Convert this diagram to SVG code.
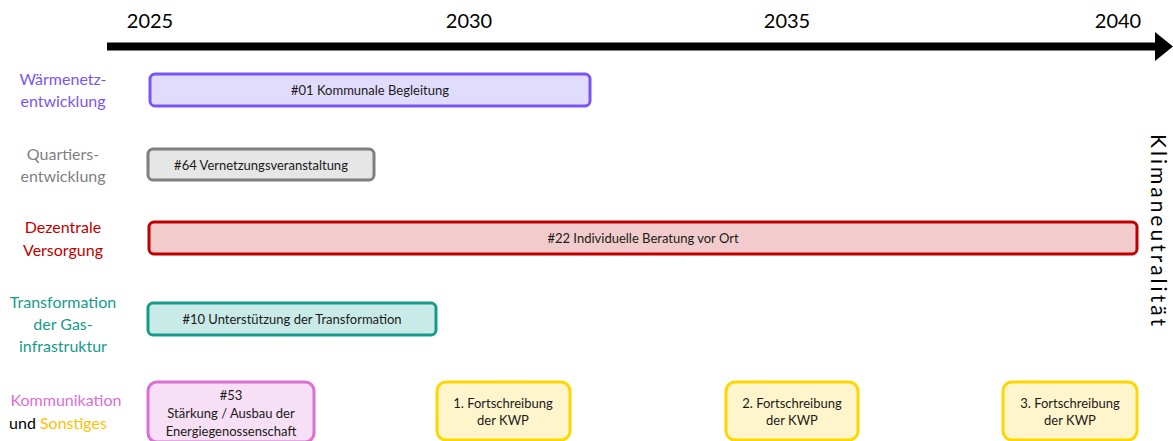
<svg xmlns="http://www.w3.org/2000/svg" width="1173" height="441" viewBox="0 0 1173 441">
<style>
text{font-family:Lato,"Open Sans","Liberation Sans",sans-serif}
.yr{font-size:20px;fill:#000;text-anchor:middle}
.lbl{font-size:16px;text-anchor:middle}
.bx{font-size:13px;fill:#1a1a1a;text-anchor:middle}
.box{stroke-width:3}
</style>
<rect width="1173" height="441" fill="#fff"/>
<g id="axis">
<line x1="107" y1="46.5" x2="1157" y2="46.5" stroke="#000" stroke-width="8"/>
<polygon points="1155,32 1173,46.5 1155,61" fill="#000"/>
<text class="yr" x="150" y="28">2025</text>
<text class="yr" x="469" y="28">2030</text>
<text class="yr" x="787" y="28">2035</text>
<text class="yr" x="1118" y="28">2040</text>
<text x="1151" y="230" font-size="21" text-anchor="middle" transform="rotate(90 1151 230)" textLength="192" lengthAdjust="spacing" fill="#000">Klimaneutralität</text>
</g>
<g id="labels">
<text class="lbl" x="63" y="85" fill="#7b55f2">Wärmenetz-</text>
<text class="lbl" x="63" y="107" fill="#7b55f2">entwicklung</text>
<text class="lbl" x="63" y="160" fill="#7f7f7f">Quartiers-</text>
<text class="lbl" x="63" y="182" fill="#7f7f7f">entwicklung</text>
<text class="lbl" x="63" y="233" fill="#c00000">Dezentrale</text>
<text class="lbl" x="63" y="256" fill="#c00000">Versorgung</text>
<text class="lbl" x="63" y="308" fill="#169b8b">Transformation</text>
<text class="lbl" x="63" y="330" fill="#169b8b">der Gas-</text>
<text class="lbl" x="63" y="352" fill="#169b8b">infrastruktur</text>
<text class="lbl" x="66" y="406" fill="#dc6ed6">Kommunikation</text>
<text class="lbl" x="58" y="429"><tspan fill="#000">und </tspan><tspan fill="#ffc000">Sonstiges</tspan></text>
</g>
<g id="n01">
<rect class="box" x="150" y="74" width="440" height="32" rx="5" fill="#e2dcfc" stroke="#7b55f2"/>
<text class="bx" x="370" y="95">#01 Kommunale Begleitung</text>
</g>
<g id="n64">
<rect class="box" x="148" y="149" width="226" height="31" rx="5" fill="#e6e6e6" stroke="#7f7f7f"/>
<text class="bx" x="261" y="170">#64 Vernetzungsveranstaltung</text>
</g>
<g id="n22">
<rect class="box" x="149" y="222" width="988" height="32" rx="5" fill="#f2cccc" stroke="#c00000"/>
<text class="bx" x="643" y="243">#22 Individuelle Beratung vor Ort</text>
</g>
<g id="n10">
<rect class="box" x="148" y="303" width="288" height="32" rx="5" fill="#c9ebe8" stroke="#169b8b"/>
<text class="bx" x="292" y="324">#10 Unterstützung der Transformation</text>
</g>
<g id="n53">
<rect class="box" x="148" y="382" width="166" height="60" rx="9" fill="#f7dff5" stroke="#dc6ed6"/>
<text class="bx" x="231" y="400">#53</text>
<text class="bx" x="231" y="418">Stärkung / Ausbau der</text>
<text class="bx" x="231" y="436">Energiegenossenschaft</text>
</g>
<g id="f1">
<rect class="box" x="437" y="382" width="133" height="58" rx="9" fill="#fff5cc" stroke="#ffd700"/>
<text class="bx" x="503" y="408">1. Fortschreibung</text>
<text class="bx" x="503" y="425">der KWP</text>
</g>
<g id="f2">
<rect class="box" x="726" y="382" width="132" height="58" rx="9" fill="#fff5cc" stroke="#ffd700"/>
<text class="bx" x="792" y="408">2. Fortschreibung</text>
<text class="bx" x="792" y="425">der KWP</text>
</g>
<g id="f3">
<rect class="box" x="1003" y="382" width="134" height="58" rx="9" fill="#fff5cc" stroke="#ffd700"/>
<text class="bx" x="1070" y="408">3. Fortschreibung</text>
<text class="bx" x="1070" y="425">der KWP</text>
</g>
<g id="connectors"></g>
</svg>
